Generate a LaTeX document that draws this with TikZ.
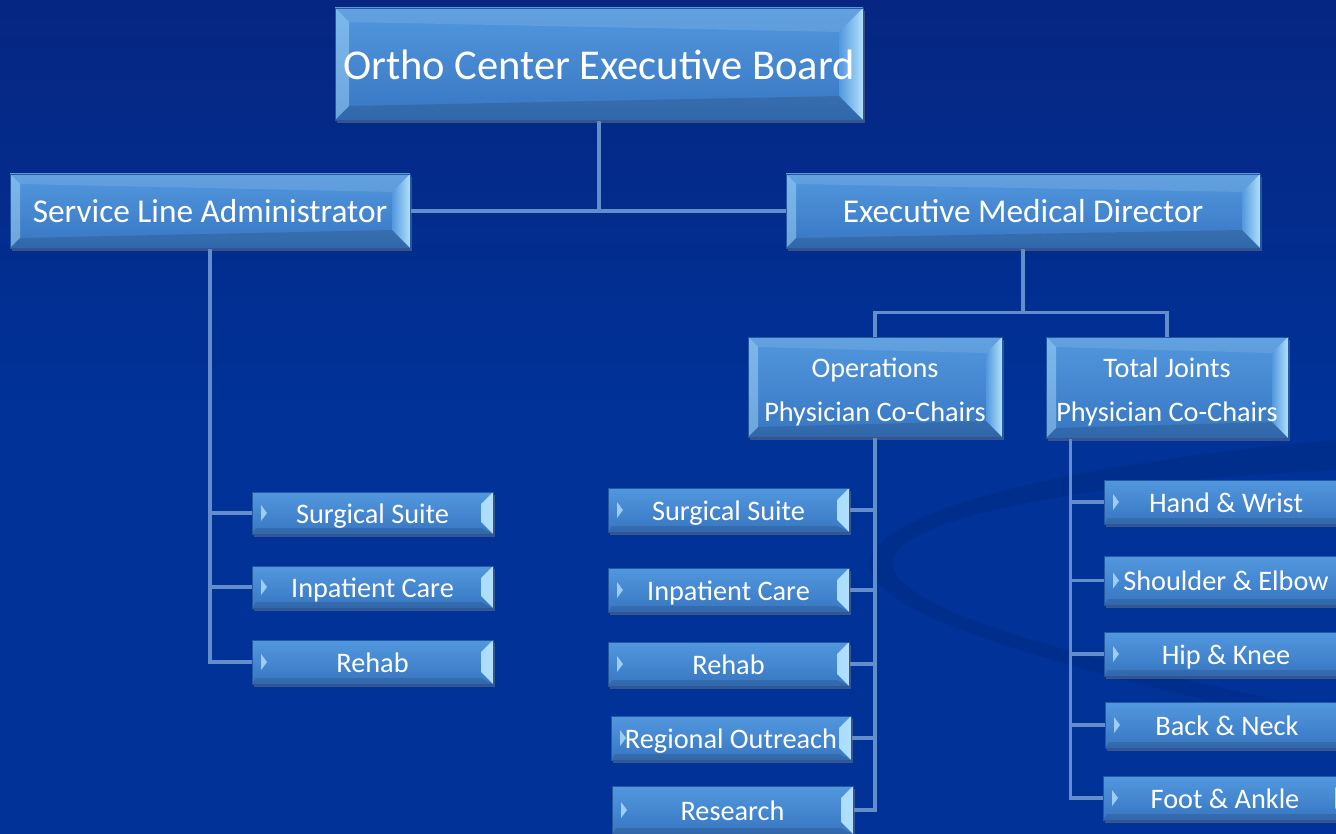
\documentclass[tikz,border=0pt]{standalone}
\usepackage{fontspec}
\setmainfont{Carlito}
\usetikzlibrary{calc,shadows}

\definecolor{slide}{RGB}{0,50,152}
\definecolor{slidetop}{RGB}{6,38,130}
\definecolor{boxtop}{RGB}{82,152,222}
\definecolor{boxbot}{RGB}{56,118,194}
\definecolor{boxedge}{RGB}{38,88,160}
\definecolor{bevel}{RGB}{176,224,252}
\definecolor{wire}{RGB}{98,142,204}

\pgfdeclarelayer{slidebg}
\pgfdeclarelayer{wires}
\pgfsetlayers{slidebg,wires,main}

\tikzset{
  card/.style={rectangle, inner sep=0pt, top color=boxtop, bottom color=boxbot,
    draw=boxedge, line width=0.8pt, text=white, align=center,
    drop shadow={shadow xshift=2pt, shadow yshift=-3pt, opacity=0.45}},
  bevels/.style 2 args={path picture={
    \fill[bevel, opacity=0.45] (path picture bounding box.north west) -- ++(#1,-#1)
      -- ($(path picture bounding box.south west)+(#1,#1)$) -- (path picture bounding box.south west) -- cycle;
    \shade[left color=boxtop, right color=bevel] (path picture bounding box.north east) -- ++(-#2,-#2)
      -- ($(path picture bounding box.south east)+(-#2,#2)$) -- (path picture bounding box.south east) -- cycle;
    \fill[white, opacity=0.1] (path picture bounding box.north west) -- (path picture bounding box.north east)
      -- ++(-#2,-#2) -- ($(path picture bounding box.north west)+(#1,-#1)$) -- cycle;
    \fill[black, opacity=0.12] (path picture bounding box.south west) -- (path picture bounding box.south east)
      -- ++(-#2,#2) -- ($(path picture bounding box.south west)+(#1,#1)$) -- cycle;
  }},
  leaf/.style={card, minimum width=241pt, minimum height=44pt, font=\fontsize{28.3}{31}\selectfont,
    text height=20pt, text depth=0pt,
    path picture={
    \shade[left color=boxtop, right color=bevel] (path picture bounding box.north east) -- ++(-12pt,-12pt)
      -- ($(path picture bounding box.south east)+(-12pt,12pt)$) -- (path picture bounding box.south east) -- cycle;
    \fill[bevel, opacity=0.8] ($(path picture bounding box.west)+(9pt,8pt)$) -- ++(6pt,-8pt) -- ++(-6pt,-8pt) -- cycle;
    \fill[black, opacity=0.12] (path picture bounding box.south west) -- (path picture bounding box.south east)
      -- ++(-12pt,6pt) -- ($(path picture bounding box.south west)+(4pt,6pt)$) -- cycle;
  }},
  wire/.style={draw=wire, line width=3.6pt},
}

\begin{document}
\begin{tikzpicture}[x=1pt, y=-1pt]
  %%%%% BACKGROUND %%%%%
  \useasboundingbox (0,0) rectangle (1336,834);
  \begin{pgfonlayer}{slidebg}
    \shade[top color=slidetop, bottom color=slide, middle color=slide] (0,0) rectangle (1336,834);
    % faint swirl behind the lower right
    \fill[black, opacity=0.07] (1336,440) .. controls (1050,465) and (862,515) .. (870,568)
      .. controls (878,620) and (1100,680) .. (1336,728) -- (1336,712)
      .. controls (1120,668) and (898,615) .. (893,565)
      .. controls (888,520) and (1080,482) .. (1336,470) -- cycle;
  \end{pgfonlayer}

  %%%%% TOP LEVELS %%%%%
  \node[card, bevels={14pt}{24pt}, minimum width=528pt, minimum height=112pt,
    font=\fontsize{42.5}{46}\selectfont, text height=31pt, text depth=0pt] (board) at (599,64) {Ortho Center Executive Board};
  \node[card, bevels={10pt}{18pt}, minimum width=400pt, minimum height=74pt,
    font=\fontsize{33.3}{36}\selectfont, text height=24pt, text depth=0pt] (sla) at (210,211) {Service Line Administrator};
  \node[card, bevels={10pt}{18pt}, minimum width=474pt, minimum height=74pt,
    font=\fontsize{33.3}{36}\selectfont, text height=24pt, text depth=0pt] (emd) at (1023,211) {Executive Medical Director};

  \node[card, bevels={10pt}{16pt}, minimum width=254pt, minimum height=100pt,
    font=\fontsize{28.3}{44}\selectfont, text height=73pt, text depth=5pt] (ops) at (875,387) {Operations\\Physician Co-Chairs};
  \node[card, bevels={10pt}{16pt}, minimum width=242pt, minimum height=101pt,
    font=\fontsize{28.3}{44}\selectfont, text height=73pt, text depth=5pt] (tj) at (1167,387.5) {Total Joints\\Physician Co-Chairs};

  %%%%% ADMINISTRATOR BRANCH %%%%%
  \node[leaf, minimum height=42pt] (lsurg) at (372.5,513) {Surgical Suite};
  \node[leaf, minimum height=42pt] (linpat) at (372.5,587) {Inpatient Care};
  \node[leaf, minimum height=44pt] (lrehab) at (372.5,662) {Rehab};

  %%%%% OPERATIONS BRANCH %%%%%
  \node[leaf] (msurg) at (728.5,510) {Surgical Suite};
  \node[leaf] (minpat) at (728.5,590) {Inpatient Care};
  \node[leaf] (mrehab) at (728.5,664) {Rehab};
  \node[leaf, minimum width=240pt] (mreach) at (731,738) {Regional Outreach};
  \node[leaf, minimum width=241pt, minimum height=48pt] (mresearch) at (732.5,810) {Research};

  %%%%% TOTAL JOINTS BRANCH %%%%%
  \node[leaf, minimum width=244pt] (rhand) at (1226,502) {Hand \& Wrist};
  \node[leaf, minimum width=244pt, minimum height=49pt] (rshoulder) at (1226,580.5) {Shoulder \& Elbow};
  \node[leaf, minimum width=244pt] (rhip) at (1226,654) {Hip \& Knee};
  \node[leaf, minimum width=244pt, minimum height=46pt] (rback) at (1227,725) {Back \& Neck};
  \node[leaf, minimum width=244pt] (rfoot) at (1225,798) {Foot \& Ankle};

  %%%%% CONNECTORS %%%%%
  \begin{pgfonlayer}{wires}
  \draw[wire] (board.south) -- (board.south |- sla.east);
  \draw[wire] (sla.east) -- (emd.west);

  \coordinate (bar) at ($(ops.north)+(0,-24)$);
  \draw[wire] (emd.south) -- (emd.south |- bar);
  \draw[wire] (ops.north) -- (bar) -| (tj.north);

  \foreach \n in {lsurg,linpat,lrehab}
    \draw[wire] (sla.south) |- (\n.west);
  \foreach \n in {msurg,minpat,mrehab,mreach,mresearch}
    \draw[wire] (ops.south) |- (\n.east);
  \coordinate (tjstem) at ($(tj.south west)+(25,0)$);
  \foreach \n in {rhand,rshoulder,rhip,rback,rfoot}
    \draw[wire] (tjstem) |- (\n.west);
  \end{pgfonlayer}
\end{tikzpicture}
\end{document}
